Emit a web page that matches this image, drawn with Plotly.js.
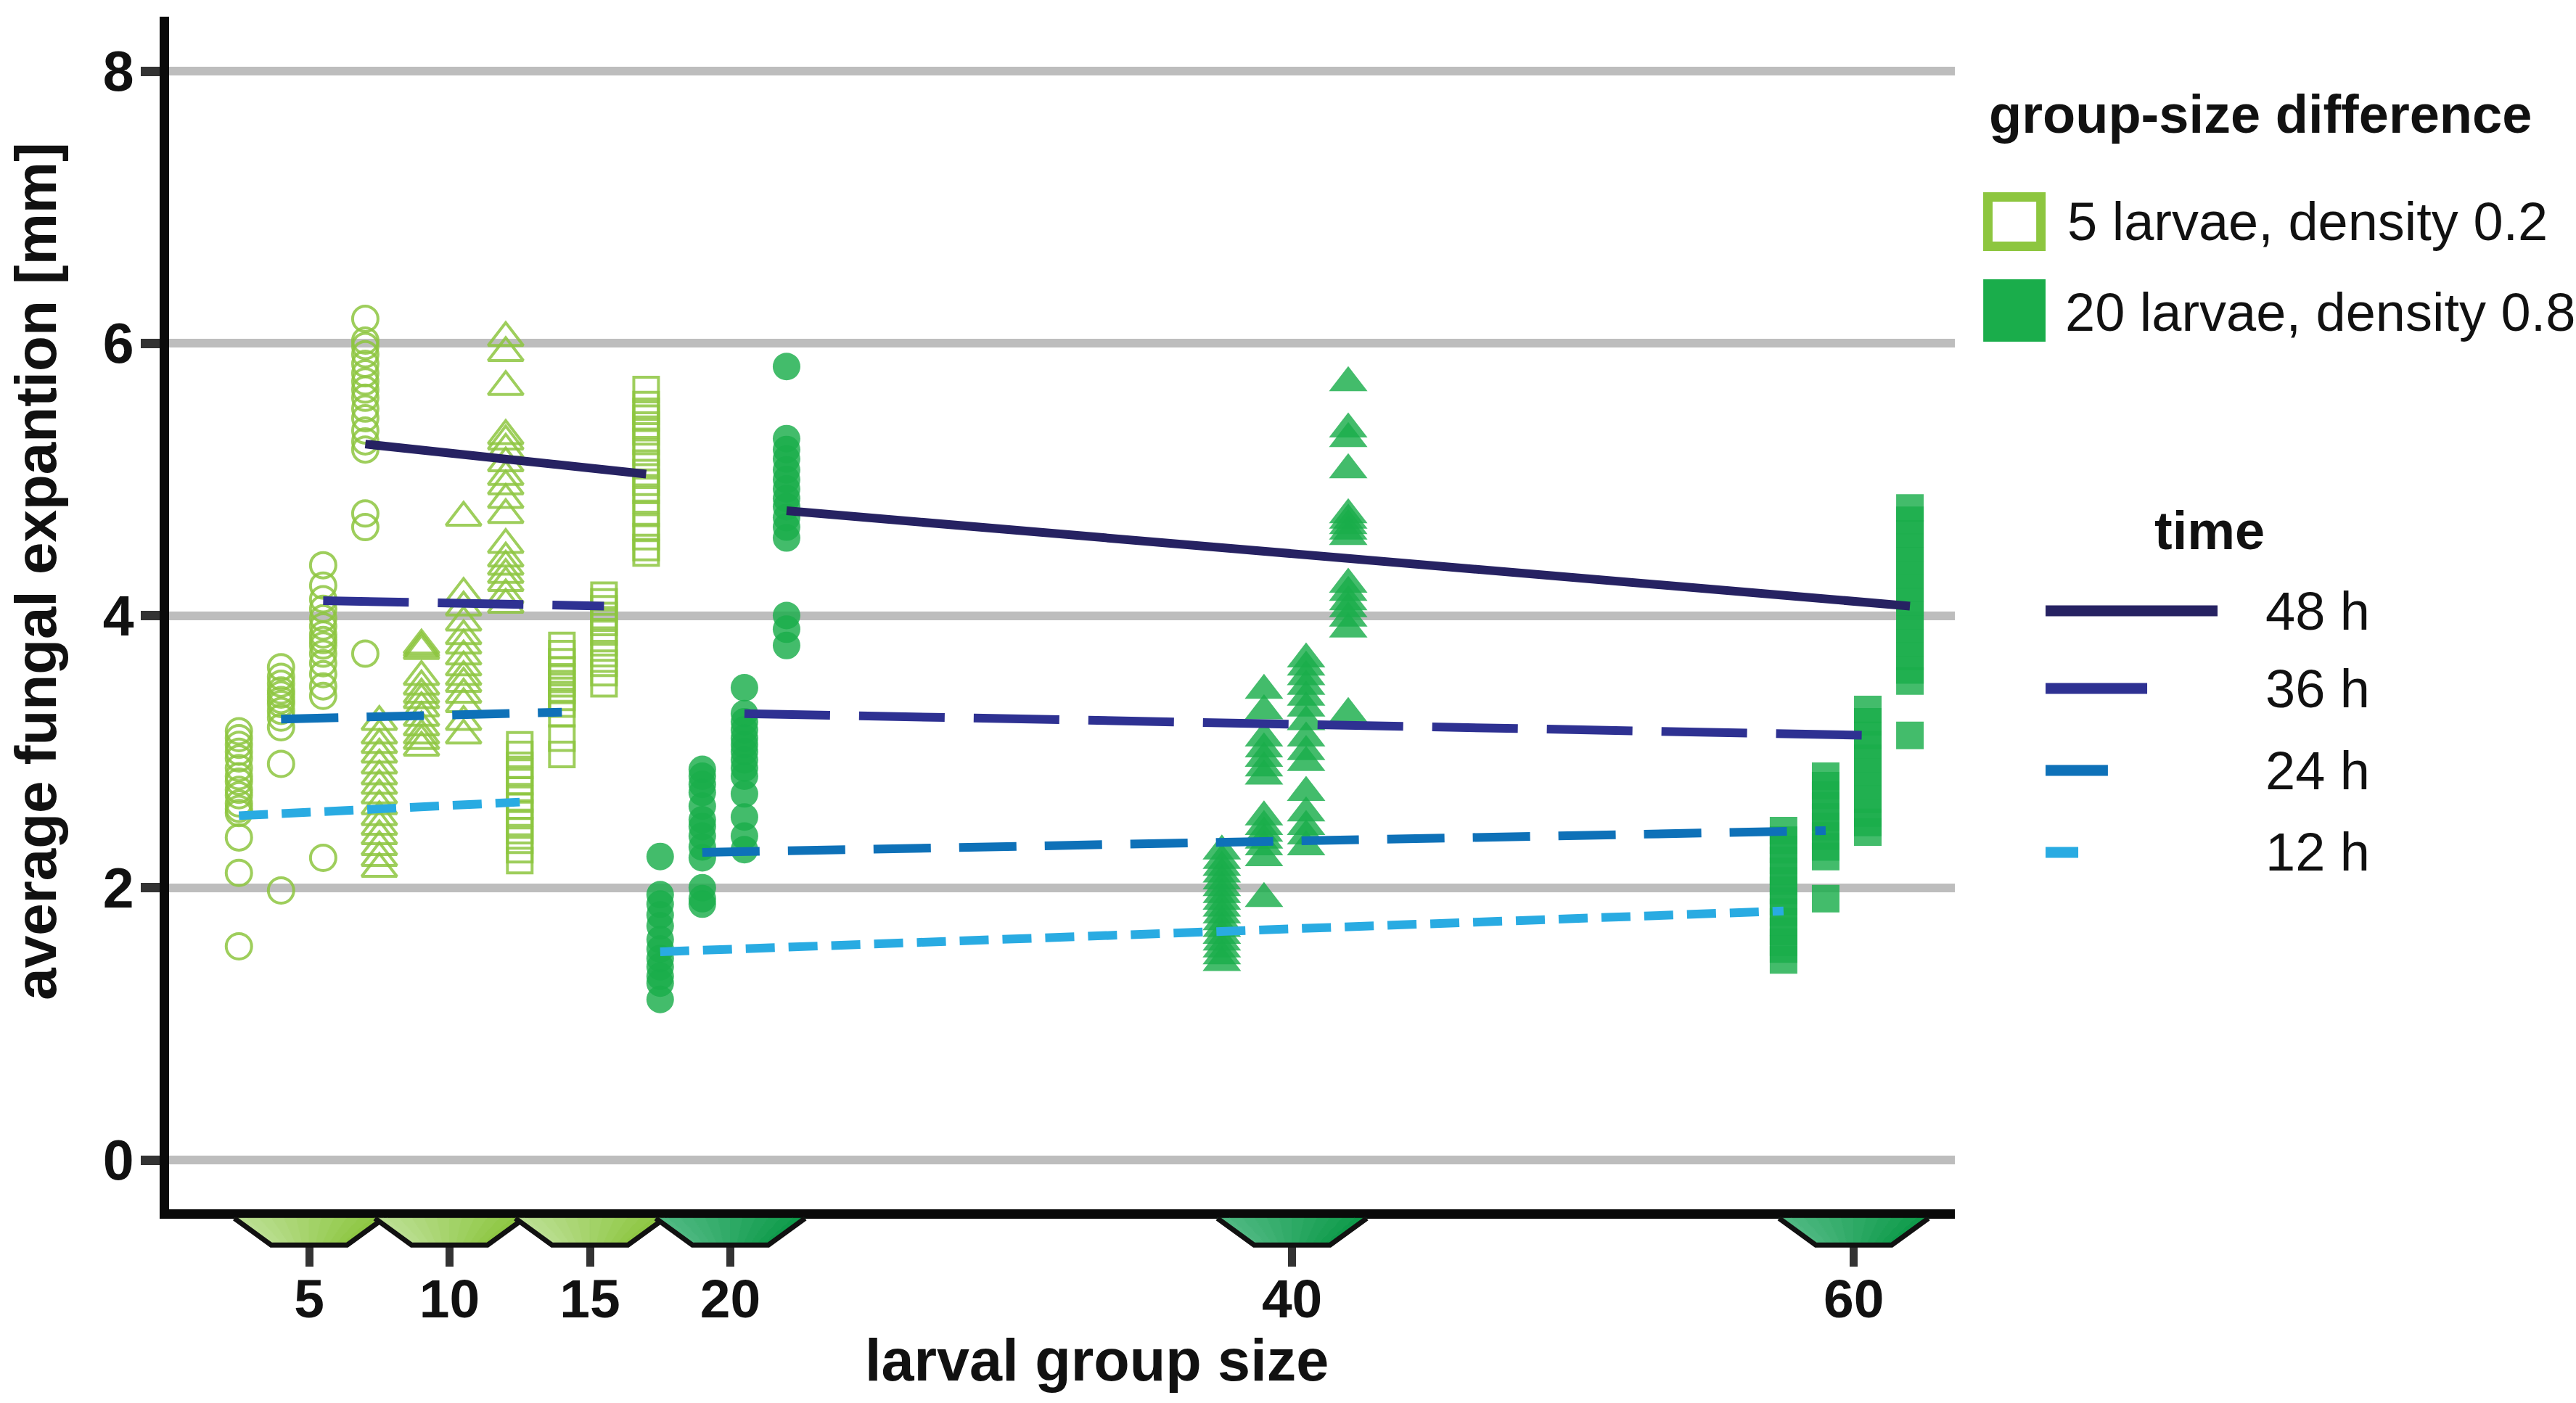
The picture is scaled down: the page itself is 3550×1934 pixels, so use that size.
<!DOCTYPE html>
<html>
<head>
<meta charset="utf-8">
<script src="https://cdn.plot.ly/plotly-3.0.1.min.js"></script>
<style>html,body{margin:0;padding:0;background:#fff}#chart{width:3550px;height:1934px}</style>
</head>
<body>
<div id="chart"></div>
<script>
// group sizes on the x axis and time points (columns inside each group)
const groupsLow = [5, 10, 15];     // 5 larvae, density 0.2
const groupsHigh = [20, 40, 60];   // 20 larvae, density 0.8
const times = ['12 h', '24 h', '36 h', '48 h'];
const timeOffset = [-2.5, -1.0, 0.5, 2.0];
const tickVals = [5, 10, 15, 20, 40, 60];

// average fungal expansion [mm]
const g5_12 = [3.15, 3.10, 3.05, 3.00, 2.95, 2.88, 2.82, 2.78, 2.72, 2.68, 2.62, 2.58, 2.55, 2.37, 2.11, 1.57];
const g5_24 = [3.62, 3.55, 3.50, 3.45, 3.42, 3.38, 3.35, 3.30, 3.25, 3.18, 2.91, 1.98];
const g5_36 = [4.37, 4.22, 4.12, 4.05, 3.98, 3.92, 3.86, 3.82, 3.78, 3.72, 3.65, 3.57, 3.48, 3.41, 2.22];
const g5_48 = [6.18, 6.02, 5.98, 5.92, 5.85, 5.78, 5.72, 5.66, 5.60, 5.52, 5.45, 5.36, 5.28, 5.22, 4.75, 4.65, 3.72];

const g10_12 = [3.22, 3.12, 3.05, 2.98, 2.90, 2.82, 2.75, 2.68, 2.60, 2.52, 2.45, 2.38, 2.30, 2.22, 2.14];
const g10_24 = [3.78, 3.76, 3.74, 3.55, 3.48, 3.42, 3.38, 3.32, 3.25, 3.18, 3.12, 3.08, 3.03];
const g10_36 = [4.72, 4.16, 4.06, 3.95, 3.85, 3.78, 3.70, 3.62, 3.55, 3.50, 3.42, 3.35, 3.22, 3.12];
const g10_48 = [6.04, 5.93, 5.68, 5.32, 5.28, 5.22, 5.12, 5.02, 4.95, 4.85, 4.74, 4.52, 4.42, 4.36, 4.30, 4.24, 4.15, 4.08];

const g15_12 = [3.05, 2.98, 2.90, 2.85, 2.78, 2.72, 2.65, 2.60, 2.55, 2.48, 2.42, 2.35, 2.28, 2.20];
const g15_24 = [3.78, 3.72, 3.66, 3.60, 3.55, 3.50, 3.45, 3.40, 3.35, 3.28, 3.10, 2.98];
const g15_36 = [4.15, 4.10, 4.05, 4.00, 3.95, 3.88, 3.80, 3.72, 3.65, 3.58, 3.50];
const g15_48 = [5.66, 5.55, 5.50, 5.45, 5.40, 5.35, 5.28, 5.20, 5.12, 5.05, 4.98, 4.92, 4.85, 4.75, 4.65, 4.58, 4.50, 4.46];

const g20_12 = [2.23, 1.95, 1.88, 1.80, 1.72, 1.62, 1.55, 1.48, 1.42, 1.35, 1.30, 1.18];
const g20_24 = [2.87, 2.82, 2.76, 2.70, 2.60, 2.50, 2.45, 2.38, 2.30, 2.22, 2.00, 1.92, 1.88];
const g20_36 = [3.47, 3.28, 3.22, 3.16, 3.10, 3.05, 3.00, 2.94, 2.88, 2.82, 2.69, 2.52, 2.38, 2.28];
const g20_48 = [5.83, 5.30, 5.22, 5.15, 5.07, 5.00, 4.93, 4.86, 4.80, 4.72, 4.65, 4.57, 4.00, 3.90, 3.78];

const g40_12 = [2.27, 2.20, 2.15, 2.10, 2.05, 2.00, 1.95, 1.90, 1.85, 1.80, 1.75, 1.70, 1.65, 1.60, 1.55, 1.50, 1.45];
const g40_24 = [3.45, 3.30, 3.10, 3.02, 2.95, 2.88, 2.82, 2.52, 2.45, 2.40, 2.35, 2.30, 2.22, 1.92];
const g40_36 = [3.68, 3.62, 3.55, 3.48, 3.40, 3.32, 3.22, 3.10, 3.00, 2.92, 2.70, 2.55, 2.45, 2.38, 2.30];
const g40_48 = [5.71, 5.37, 5.30, 5.07, 4.74, 4.70, 4.66, 4.62, 4.58, 4.23, 4.17, 4.10, 4.05, 3.98, 3.90, 3.28];

const g60_12 = [2.42, 2.35, 2.28, 2.20, 2.12, 2.05, 1.98, 1.90, 1.82, 1.75, 1.68, 1.60, 1.55, 1.47];
const g60_24 = [2.82, 2.75, 2.68, 2.60, 2.52, 2.45, 2.38, 2.30, 2.23, 1.92];
const g60_36 = [3.31, 3.22, 3.12, 3.05, 2.95, 2.85, 2.75, 2.65, 2.55, 2.48, 2.41];
const g60_48 = [4.79, 4.70, 4.60, 4.50, 4.40, 4.30, 4.20, 4.10, 4.00, 3.90, 3.80, 3.70, 3.60, 3.52, 3.12];

// trend line end values per time (12, 24, 36, 48 h)
const trendLowStart = [2.53, 3.24, 4.11, 5.26];
const trendLowEnd = [2.63, 3.29, 4.07, 5.04];
const trendHighStart = [1.53, 2.26, 3.28, 4.77];
const trendHighEnd = [1.83, 2.42, 3.12, 4.07];

const seriesByGroup = {
  5: [g5_12, g5_24, g5_36, g5_48],
  10: [g10_12, g10_24, g10_36, g10_48],
  15: [g15_12, g15_24, g15_36, g15_48],
  20: [g20_12, g20_24, g20_36, g20_48],
  40: [g40_12, g40_24, g40_36, g40_48],
  60: [g60_12, g60_24, g60_36, g60_48]
};

const lightGreen = '#8dc63f', darkGreen = '#1aad4b';
const symbolOf = {5:'circle-open', 10:'triangle-up-open', 15:'square-open', 20:'circle', 40:'triangle-up', 60:'square'};
const sizeOf = {5:35, 10:42, 15:34, 20:38, 40:46, 60:38};
const lineColors = ['#29abe2', '#0e71b8', '#2e3192', '#262262'];
const lineDash = ['40px,19px', '79px,39px', '118px,40px', 'solid'];

const FONT = 'Liberation Sans, Arial, Helvetica, sans-serif';

const traces = [];
for (const g of [...groupsLow, ...groupsHigh]) {
  const low = groupsLow.includes(g);
  seriesByGroup[g].forEach((vals, t) => {
    traces.push({
      type: 'scatter', mode: 'markers', showlegend: false, hoverinfo: 'y',
      x: vals.map(() => g + timeOffset[t]), y: vals,
      marker: low
        ? {symbol: symbolOf[g], size: sizeOf[g], color: lightGreen, opacity: 0.85, line: {color: lightGreen, width: 4}}
        : {symbol: symbolOf[g], size: sizeOf[g], color: darkGreen, opacity: 0.82, line: {width: 0}}
    });
  });
}
// trend lines on top of the points
times.forEach((name, t) => {
  const ln = {color: lineColors[t], width: 12, dash: lineDash[t]};
  traces.push({type:'scatter', mode:'lines', showlegend:false, name,
    x:[groupsLow[0] + timeOffset[t], groupsLow[2] + timeOffset[t]], y:[trendLowStart[t], trendLowEnd[t]], line: ln});
  traces.push({type:'scatter', mode:'lines', showlegend:false, name,
    x:[groupsHigh[0] + timeOffset[t], groupsHigh[2] + timeOffset[t]], y:[trendHighStart[t], trendHighEnd[t]], line: ln});
});

// trapezoid markers under the x axis, with a left-to-right gradient
function mix(a, b, f) {
  const pa = [1,3,5].map(i => parseInt(a.substr(i,2),16)), pb = [1,3,5].map(i => parseInt(b.substr(i,2),16));
  return 'rgb(' + pa.map((v,i) => Math.round(v + (pb[i]-v)*f)).join(',') + ')';
}
const shapes = [];
const trapTop = -0.0075, trapBot = -0.0300, halfTop = 2.66, halfBot = 1.35, NSTRIP = 12;
for (const g of tickVals) {
  const low = groupsLow.includes(g);
  const c0 = low ? '#bde096' : '#52ba85', c1 = low ? '#8cc63f' : '#0c9a48';
  const tx = f => g - halfTop + 2*halfTop*f, bx = f => g - halfBot + 2*halfBot*f;
  for (let i = 0; i < NSTRIP; i++) {
    const f0 = i/NSTRIP, f1 = (i+1)/NSTRIP, col = mix(c0, c1, (i+0.5)/NSTRIP);
    shapes.push({type:'path', xref:'x', yref:'paper', layer:'above', fillcolor:col, line:{color:col, width:1},
      path:`M${tx(f0)},${trapTop} L${tx(f1)},${trapTop} L${bx(f1)},${trapBot} L${bx(f0)},${trapBot} Z`});
  }
  shapes.push({type:'path', xref:'x', yref:'paper', layer:'above', fillcolor:'rgba(0,0,0,0)', line:{color:'#111', width:7},
    path:`M${tx(0)},${trapTop} L${bx(0)},${trapBot} L${bx(1)},${trapBot} L${tx(1)},${trapTop}`});
}

// legend and axis titles (drawn by hand, outside the plot area)
const annotations = [];
const ann = (text, x, y, opt) => annotations.push(Object.assign({text, x, y, xref:'paper', yref:'paper', showarrow:false,
  xanchor:'left', yanchor:'middle', font:{family:FONT, size:74, color:'#111'}}, opt || {}));
ann('<b>group-size difference</b>', 1.0183, 0.9179);
shapes.push({type:'rect', xref:'paper', yref:'paper', x0:1.0185, x1:1.0482, y0:0.8075, y1:0.8488,
  fillcolor:'#fff', line:{color:lightGreen, width:13}});
ann('5 larvae, density 0.2', 1.0620, 0.8279);
shapes.push({type:'rect', xref:'paper', yref:'paper', x0:1.0159, x1:1.0508, y0:0.7275, y1:0.7798,
  fillcolor:darkGreen, line:{width:0}});
ann('20 larvae, density 0.8', 1.0608, 0.7524);
ann('<b>time</b>', 1.1426, 0.5693, {xanchor:'center'});
const legEnd = [1.0691, 1.0857, 1.1077, 1.1471];
const legY = [0.2993, 0.368, 0.4367, 0.5018];
times.forEach((name, t) => {
  shapes.push({type:'line', xref:'paper', yref:'paper', x0:1.0508, x1:legEnd[t], y0:legY[t], y1:legY[t],
    line:{color:lineColors[t], width:15}});
  ann(name, 1.1731, legY[t]);
});
ann('<b>larval group size</b>', 0.5197, -0.1265, {xanchor:'center', font:{family:FONT, size:81, color:'#111'}});
ann('<b>average fungal expantion [mm]</b>', -0.0744, 0.5347, {xanchor:'center', textangle:-90, font:{family:FONT, size:80, color:'#111'}});

const layout = {
  width: 3550, height: 1934,
  margin: {l:233, r:856, t:23, b:267},
  paper_bgcolor:'#fff', plot_bgcolor:'#fff',
  showlegend:false,
  font:{family:FONT, color:'#111'},
  xaxis:{
    range:[0.013, 63.6], tickvals:tickVals, ticktext:tickVals.map(String),
    showgrid:false, zeroline:false,
    showline:true, linecolor:'#0a0a0a', linewidth:13,
    ticks:'outside', ticklen:66, tickwidth:11, tickcolor:'#333',
    ticklabelstandoff:-20,
    tickfont:{family:FONT, size:75, weight:'bold', color:'#111'}
  },
  yaxis:{
    range:[-0.362, 8.40], tick0:0, dtick:2,
    showgrid:true, gridcolor:'#bdbdbd', gridwidth:12, zeroline:false,
    showline:true, linecolor:'#0a0a0a', linewidth:13,
    ticks:'outside', ticklen:26, tickwidth:13, tickcolor:'#333',
    ticklabelstandoff:-6,
    tickfont:{family:FONT, size:77, weight:'bold', color:'#111'}
  },
  shapes, annotations
};

Plotly.newPlot('chart', traces, layout, {displayModeBar:false, staticPlot:true});
</script>
</body>
</html>
